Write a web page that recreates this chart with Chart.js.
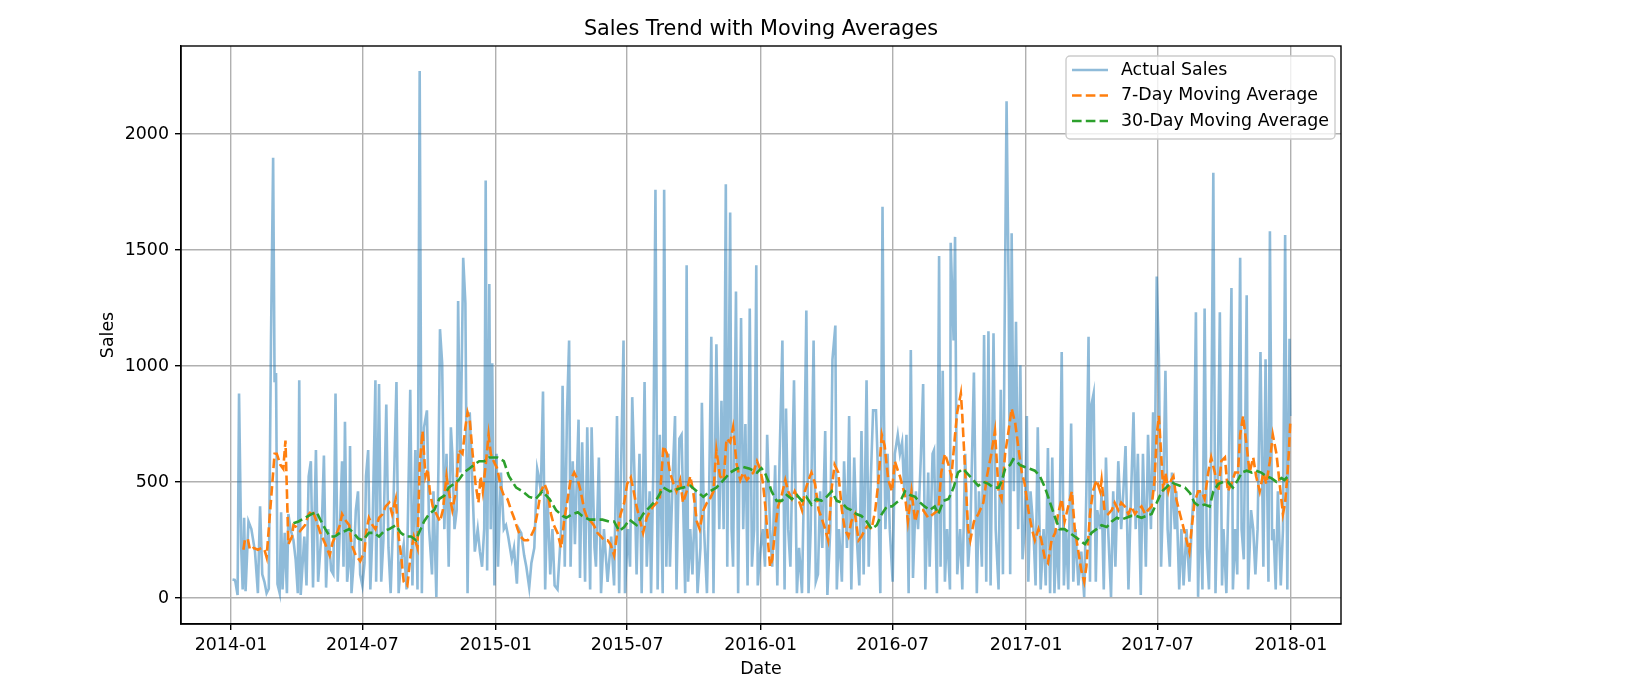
<!DOCTYPE html>
<html>
<head>
<meta charset="utf-8">
<script src="https://cdn.jsdelivr.net/npm/chart.js@4.4.1/dist/chart.umd.min.js"></script>
<style>
  html, body { margin: 0; padding: 0; background: #fff; }
  #wrap { width: 1631px; height: 696px; position: relative; }
</style>
</head>
<body>
<div id="wrap"><canvas id="chart"></canvas></div>
<script>
// x values are days counted from 2014-01-01 as [day, sales]
const actualSales = [
  [2, 80], [5, 78], [6, 70], [9, 13], [11, 882], [14, 216], [16, 37], [18, 346], [20, 29], [24, 330],
  [28, 297], [33, 200], [37, 21], [40, 395], [43, 102], [46, 70], [49, 21], [52, 40], [55, 1100], [58, 1898],
  [60, 930], [62, 970], [64, 60], [67, 21], [69, 370], [71, 37], [74, 281], [77, 21], [79, 362], [82, 297],
  [86, 249], [89, 167], [92, 21], [94, 939], [96, 13], [101, 265], [104, 54], [107, 525], [110, 590], [113, 45],
  [117, 638], [120, 70], [125, 297], [128, 614], [131, 45], [134, 297], [138, 119], [141, 102], [144, 882], [147, 70],
  [150, 297], [153, 590], [155, 135], [157, 760], [160, 70], [163, 167], [164, 655], [166, 21], [169, 151], [172, 379],
  [175, 460], [178, 102], [181, 54], [184, 151],
  [186, 525], [189, 638], [192, 37], [195, 297], [199, 939], [200, 70], [204, 923], [207, 70], [210, 249], [214, 834],
  [217, 216], [220, 21], [223, 297], [228, 931], [231, 21], [234, 150], [238, 232], [242, 37], [247, 898], [250, 54],
  [254, 638], [257, 37], [260, 2272], [263, 21], [266, 736], [270, 809], [273, 297], [277, 102], [279, 460], [283, 5],
  [286, 590], [288, 1159], [291, 1012], [294, 297], [297, 622], [300, 135], [303, 736], [305, 622], [308, 297], [311, 379],
  [313, 1281], [316, 541], [320, 1467], [323, 1272], [326, 21], [329, 801], [333, 460], [336, 200], [340, 297], [343, 200],
  [346, 135], [349, 300], [351, 1800], [353, 119], [356, 1354], [358, 297], [360, 1012], [363, 54], [366, 622], [368, 135],
  [372, 541], [376, 297], [379, 314], [382, 265], [387, 167], [390, 216], [394, 62], [397, 297], [400, 280], [404, 184],
  [407, 135], [411, 45], [414, 151], [418, 216], [422, 557], [424, 525], [427, 460], [430, 890], [433, 37], [436, 460],
  [440, 102], [443, 297], [446, 54], [450, 37], [455, 297], [457, 915], [460, 135], [463, 785], [466, 1110], [468, 135],
  [471, 590], [474, 232], [479, 769], [481, 86], [484, 671], [488, 70], [491, 736], [495, 37], [497, 736], [501, 216],
  [503, 135], [507, 606], [510, 21], [514, 297], [519, 70], [524, 265], [528, 54], [532, 785], [535, 21], [537, 460],
  [541, 1110], [543, 21], [547, 297], [550, 135], [553, 866], [556, 541],
  [559, 102], [563, 622], [566, 21], [570, 931], [573, 135], [577, 460], [579, 21], [582, 541], [585, 1760], [588, 37],
  [591, 704], [595, 21], [597, 1760], [600, 135], [603, 622], [605, 135], [609, 541], [612, 785], [614, 37], [618, 687],
  [621, 704], [624, 297], [626, 21], [628, 1435], [630, 70], [633, 297], [636, 102], [640, 460], [643, 21], [647, 216],
  [649, 842], [652, 297], [656, 21], [659, 460], [662, 1126], [665, 21], [669, 1094], [673, 297], [676, 850], [679, 297],
  [682, 1784], [684, 135], [688, 1662], [690, 297], [692, 135], [696, 1321], [699, 21], [703, 1207], [706, 297], [709, 750],
  [712, 54], [715, 1248], [718, 135], [721, 297], [724, 1435], [726, 54], [730, 216], [733, 297], [736, 135], [739, 704],
  [743, 297], [746, 135], [750, 572], [753, 54], [756, 590], [760, 1110], [763, 37], [765, 817], [768, 297], [771, 135],
  [776, 939], [780, 21], [783, 216], [787, 21], [790, 541], [793, 1240], [796, 21], [799, 297], [803, 1110], [806, 70],
  [809, 102], [812, 460], [815, 216], [819, 720], [822, 13], [826, 297], [829, 1029], [833, 1175], [835, 37], [838, 297],
  [842, 70], [845, 590], [849, 216], [852, 785], [855, 37], [859, 606], [862, 297], [866, 54], [869, 720], [872, 102],
  [876, 939], [879, 135], [882, 525], [885, 809], [889, 809], [891, 622], [895, 21], [898, 1687], [900, 785], [902, 297],
  [905, 622], [908, 297], [912, 70], [915, 622], [919, 704], [922, 622], [925, 671], [928, 460],
  [931, 704], [934, 21], [937, 1069], [940, 86], [944, 460], [947, 297], [951, 622], [954, 923], [957, 37], [961, 541],
  [963, 135], [967, 622], [969, 638], [973, 21], [976, 1475], [978, 135], [981, 980], [984, 70], [987, 297], [991, 37],
  [992, 1532], [996, 1110], [998, 1557], [1001, 102], [1005, 297], [1008, 37], [1012, 622], [1016, 135], [1019, 280], [1024, 972],
  [1028, 21], [1031, 460], [1035, 135], [1038, 1134], [1041, 70], [1044, 1150], [1047, 54], [1051, 1142], [1054, 297], [1058, 37],
  [1061, 898], [1064, 102], [1066, 1044], [1069, 2142], [1072, 1289], [1074, 102], [1076, 1573], [1079, 460], [1082, 1191], [1085, 297],
  [1088, 1004], [1091, 167], [1094, 297], [1097, 785], [1099, 70], [1102, 460], [1106, 297], [1109, 54],
  [1112, 736], [1116, 37], [1120, 297], [1123, 54], [1126, 647], [1129, 21], [1132, 606], [1135, 21], [1138, 297], [1141, 37],
  [1145, 1061], [1148, 54], [1151, 297], [1154, 37], [1158, 752], [1161, 70], [1164, 297], [1168, 54], [1172, 200], [1176, 5],
  [1179, 460], [1182, 1126], [1184, 70], [1186, 834], [1189, 882], [1192, 70], [1194, 379], [1198, 297], [1200, 460], [1203, 37],
  [1206, 606], [1209, 297], [1213, 5], [1216, 460], [1219, 135], [1223, 590], [1227, 297], [1230, 460], [1233, 655], [1237, 37],
  [1240, 379], [1244, 801], [1247, 297], [1250, 622], [1254, 13], [1257, 622], [1261, 135], [1264, 704], [1268, 297], [1271, 801],
  [1273, 460], [1276, 1386], [1279, 1029], [1282, 135], [1285, 460], [1288, 980], [1291, 297], [1294, 135], [1297, 541], [1301, 297],
  [1303, 460], [1307, 37], [1310, 297], [1313, 54], [1317, 297], [1321, 70], [1324, 297], [1327, 460], [1330, 1232], [1333, 5],
  [1336, 460], [1339, 37], [1342, 1248], [1345, 216], [1348, 37], [1351, 622], [1354, 1833], [1357, 21], [1360, 460], [1363, 1232],
  [1366, 54], [1368, 297], [1372, 21], [1375, 460], [1379, 1337], [1381, 37], [1384, 297], [1387, 102], [1391, 1467], [1393, 297],
  [1396, 167], [1400, 1305], [1402, 37], [1406, 379], [1409, 297], [1412, 102], [1415, 297], [1419, 1061], [1423, 135], [1426, 1029],
  [1430, 70], [1432, 1581], [1435, 249], [1437, 297], [1440, 37], [1443, 460], [1447, 54], [1450, 297], [1453, 1565], [1456, 37],
  [1459, 1118], [1460, 785]
];

const movingAvg7 = [
  [17, 208], [19, 249], [23, 257], [26, 208], [31, 216], [37, 208], [42, 216], [46, 208], [49, 176], [54, 379],
  [60, 622], [63, 622], [68, 574], [72, 557], [75, 679], [77, 460], [79, 232], [84, 265], [86, 314], [90, 306],
  [95, 289], [102, 314], [107, 362], [112, 379], [118, 330], [123, 281], [130, 232], [136, 184], [140, 240], [146, 281],
  [150, 314], [153, 362], [157, 338], [163, 314], [166, 232], [172, 184], [178, 159], [184, 200],
  [186, 281], [190, 346], [195, 314], [199, 297], [204, 346], [209, 362], [213, 395], [218, 411], [222, 362], [227, 427],
  [231, 265], [235, 167], [238, 70], [243, 54], [248, 200], [252, 265], [257, 216], [260, 574], [264, 720], [266, 622],
  [268, 525], [271, 557], [274, 460], [278, 395], [283, 362], [288, 330], [292, 379], [297, 525], [300, 460], [305, 379],
  [310, 460], [314, 638], [319, 622], [323, 736], [326, 801], [329, 769], [333, 622], [337, 492], [341, 411], [344, 525],
  [347, 460], [351, 574], [355, 704], [358, 622], [362, 590], [367, 557],
  [372, 476], [376, 442], [381, 427], [386, 379], [390, 346], [395, 297], [399, 265], [404, 249], [409, 249], [413, 265],
  [418, 297], [422, 362], [427, 460], [432, 492], [436, 460], [441, 362], [445, 314], [450, 281], [455, 216], [459, 330],
  [464, 427], [468, 509], [473, 541], [478, 509], [482, 460], [487, 379], [491, 346], [496, 330], [500, 314], [505, 281],
  [510, 265], [514, 249], [519, 249], [523, 232], [528, 184], [533, 297], [537, 362], [542, 411], [546, 492], [551, 520],
  [555, 460], [559, 395], [564, 330], [568, 281], [573, 346], [578, 379], [582, 395], [587, 411], [591, 427], [596, 655],
  [601, 622], [605, 541], [610, 492], [614, 460], [619, 509], [623, 411], [628, 460], [633, 525], [637, 460], [642, 330],
  [646, 297], [651, 379], [656, 411], [660, 427], [665, 460], [669, 638], [674, 525], [679, 509], [683, 687], [688, 671],
  [692, 736], [697, 574], [702, 509], [706, 541], [711, 509], [715, 525], [720, 541], [725, 590], [729, 560], [733, 500],
  [737, 380], [740, 250], [743, 135], [746, 167], [750, 297], [754, 395], [759, 442], [764, 509], [768, 460], [773, 427],
  [777, 460], [782, 427], [787, 379], [791, 460], [796, 509], [800, 541], [805, 492], [810, 379], [814, 346], [819, 297],
  [823, 249], [828, 476], [832, 574], [837, 541], [842, 379], [846, 297], [851, 265], [855, 330], [860, 362], [865, 249],
  [869, 265], [874, 297], [878, 314], [883, 297], [888, 379], [892, 492], [897, 704], [901, 655], [906, 509], [911, 460],
  [915, 590], [920, 541], [922, 525], [929, 442], [933, 330], [938, 460], [943, 330], [947, 379], [954, 379], [961, 346],
  [968, 362], [975, 379], [979, 541], [984, 622], [989, 574], [993, 525], [998, 704], [1001, 801], [1006, 882], [1008, 785],
  [1012, 541], [1016, 297], [1019, 249], [1024, 330], [1030, 362], [1037, 411], [1042, 525], [1048, 622], [1053, 720], [1058, 460],
  [1062, 427], [1067, 622], [1071, 704], [1076, 817], [1081, 752], [1085, 655], [1090, 541], [1094, 492], [1099, 379], [1104, 297],
  [1108, 249], [1113, 297], [1117, 249], [1122, 167], [1126, 151], [1131, 249], [1136, 281], [1140, 362], [1145, 427], [1149, 330],
  [1154, 395], [1159, 460], [1163, 297], [1168, 200], [1172, 119], [1176, 70], [1179, 135], [1184, 362], [1188, 460], [1193, 509],
  [1198, 460], [1200, 509], [1204, 379], [1209, 362], [1214, 379], [1218, 411], [1223, 379], [1227, 411], [1232, 395], [1237, 362],
  [1241, 395], [1246, 362], [1250, 379], [1255, 395], [1260, 362], [1264, 379], [1269, 395], [1273, 509], [1276, 704], [1279, 785],
  [1282, 622], [1285, 460], [1288, 541], [1292, 460], [1296, 509], [1299, 525], [1303, 427], [1308, 362], [1312, 314], [1317, 249],
  [1321, 200], [1324, 297], [1328, 411], [1333, 460], [1338, 460], [1342, 427], [1347, 541], [1351, 606], [1356, 541], [1361, 460],
  [1365, 590], [1370, 606], [1374, 460], [1379, 492], [1384, 541], [1388, 541], [1391, 704], [1395, 785], [1400, 655], [1404, 541],
  [1409, 606], [1413, 525], [1418, 460], [1423, 541], [1427, 492], [1432, 590], [1436, 704], [1441, 622], [1446, 476], [1450, 362],
  [1453, 411], [1456, 525], [1458, 622], [1460, 752]
];

const movingAvg30 = [
  [86, 322], [93, 330], [102, 346], [111, 362], [118, 370], [123, 338], [130, 297], [136, 265], [143, 265], [150, 281],
  [157, 289], [163, 297], [169, 281], [175, 257], [182, 249], [190, 281], [197, 281], [204, 265], [211, 289], [218, 297],
  [227, 314], [234, 281], [241, 265], [248, 265], [255, 249], [259, 281], [266, 330], [273, 362], [280, 379], [287, 427],
  [294, 442], [300, 476], [307, 492], [314, 509], [321, 541], [328, 557], [335, 574], [342, 590], [349, 590], [356, 606],
  [362, 606], [367, 606], [376, 590], [383, 525], [393, 476], [402, 460], [411, 436], [420, 427], [429, 460], [439, 427],
  [448, 379], [457, 354], [462, 346], [471, 362], [478, 370], [484, 354], [494, 338], [503, 338], [512, 338], [521, 330],
  [528, 330], [535, 289], [542, 306], [549, 338], [559, 314], [568, 362], [578, 395], [587, 427], [596, 476], [605, 460],
  [614, 468], [623, 476], [633, 484], [642, 460], [651, 436], [660, 460], [669, 476], [679, 509], [688, 541], [697, 557],
  [706, 565], [715, 557], [725, 541], [731, 560], [736, 540], [741, 500], [745, 460], [752, 419], [759, 419], [766, 444],
  [773, 427], [780, 444], [787, 419], [793, 436], [800, 403], [807, 427], [814, 419], [821, 436], [828, 460], [835, 419],
  [842, 411], [849, 387], [855, 379], [862, 362], [869, 354], [876, 330], [883, 297], [890, 314], [897, 362], [904, 395],
  [911, 395], [917, 411], [924, 427], [929, 460], [936, 444], [943, 436], [950, 411], [956, 395], [963, 379], [970, 395],
  [975, 362], [982, 419], [989, 427], [996, 476], [1002, 541], [1009, 557], [1016, 533], [1023, 509], [1030, 484], [1037, 501],
  [1044, 492], [1051, 476], [1058, 476], [1062, 501], [1067, 557], [1074, 574], [1078, 598], [1083, 590], [1087, 574], [1094, 565],
  [1101, 557], [1108, 549], [1115, 525], [1122, 476], [1129, 411], [1136, 346], [1142, 297], [1149, 297], [1156, 281], [1163, 265],
  [1170, 249], [1177, 232], [1182, 257], [1186, 281], [1193, 297], [1200, 314], [1207, 306], [1214, 330], [1221, 346], [1227, 338],
  [1234, 346], [1241, 354], [1248, 354], [1255, 346], [1262, 354], [1269, 362], [1276, 411], [1283, 460], [1289, 476], [1296, 500],
  [1301, 492], [1308, 484], [1315, 476], [1322, 452], [1328, 411], [1335, 395], [1342, 403], [1349, 395], [1354, 460], [1361, 492],
  [1368, 501], [1374, 501], [1381, 476], [1388, 509], [1393, 541], [1400, 549], [1407, 541], [1413, 549], [1420, 541], [1427, 525],
  [1434, 517], [1441, 501], [1448, 517], [1452, 509], [1457, 525], [1460, 525]
];

const seriesLabels = ['Actual Sales', '7-Day Moving Average', '30-Day Moving Average'];
const tickDays = [0, 181, 365, 546, 730, 912, 1096, 1277, 1461];
const tickLabels = ['2014-01', '2014-07', '2015-01', '2015-07', '2016-01', '2016-07', '2017-01', '2017-07', '2018-01'];
const yTicks = [0, 500, 1000, 1500, 2000];
const chartTitle = 'Sales Trend with Moving Averages';
const xTitle = 'Date';
const yTitle = 'Sales';

const FONT = "'DejaVu Sans', sans-serif";
const toPoints = pairs => pairs.map(p => ({ x: p[0], y: p[1] }));

// frame, axis titles and the legend box are drawn by hand to sit like matplotlib's
const decorations = {
  id: 'decorations',
  afterDraw(chart) {
    const ctx = chart.ctx;
    const a = chart.chartArea;
    const midX = (a.left + a.right) / 2;
    ctx.save();
    ctx.strokeStyle = '#000';
    ctx.lineWidth = 1.4;
    ctx.strokeRect(a.left, a.top, a.right - a.left, a.bottom - a.top);

    ctx.fillStyle = '#000';
    ctx.textAlign = 'center';
    ctx.textBaseline = 'middle';
    ctx.font = '20.8px ' + FONT;
    ctx.fillText(chartTitle, midX, 30);
    ctx.font = '17.4px ' + FONT;
    ctx.fillText(xTitle, midX, 669);
    ctx.save();
    ctx.translate(108, (a.top + a.bottom) / 2);
    ctx.rotate(-Math.PI / 2);
    ctx.fillText(yTitle, 0, 0);
    ctx.restore();

    // legend
    const bx = 1066, by = 56, bw = 269, bh = 83;
    ctx.beginPath();
    ctx.roundRect(bx, by, bw, bh, 4);
    ctx.fillStyle = 'rgba(255,255,255,0.8)';
    ctx.fill();
    ctx.strokeStyle = '#cccccc';
    ctx.lineWidth = 1.4;
    ctx.stroke();
    chart.data.datasets.forEach((ds, i) => {
      const y = 70 + i * 25.5;
      ctx.beginPath();
      ctx.setLineDash(ds.borderDash || []);
      ctx.strokeStyle = ds.borderColor;
      ctx.lineWidth = ds.borderWidth;
      ctx.moveTo(1072, y);
      ctx.lineTo(1108, y);
      ctx.stroke();
      ctx.setLineDash([]);
      ctx.fillStyle = '#000';
      ctx.textAlign = 'left';
      ctx.font = '17.4px ' + FONT;
      ctx.fillText(ds.label, 1121, y);
    });
    ctx.restore();
  }
};

const gridStyle = { color: '#b0b0b0', lineWidth: 1.4, tickColor: '#000', tickLength: 6, tickWidth: 1.4 };

new Chart(document.getElementById('chart'), {
  type: 'line',
  data: {
    datasets: [
      { label: seriesLabels[0], data: toPoints(actualSales), borderColor: 'rgba(31,119,180,0.5)', borderWidth: 2.6, pointRadius: 0, order: 2 },
      { label: seriesLabels[1], data: toPoints(movingAvg7), borderColor: '#ff7f0e', borderWidth: 2.6, borderDash: [9.6, 4.2], pointRadius: 0, order: 1 },
      { label: seriesLabels[2], data: toPoints(movingAvg30), borderColor: '#2ca02c', borderWidth: 2.6, borderDash: [9.6, 4.2], pointRadius: 0, order: 0 }
    ]
  },
  options: {
    responsive: true,
    maintainAspectRatio: false,
    animation: false,
    devicePixelRatio: 1,
    layout: { padding: { left: 116, right: 290, top: 46, bottom: 38 } },
    plugins: { legend: { display: false }, title: { display: false }, tooltip: { enabled: false } },
    scales: {
      x: {
        type: 'linear', min: -69, max: 1530,
        afterBuildTicks: s => { s.ticks = tickDays.map(v => ({ value: v })); },
        afterFit: s => { s.height = 34; },
        ticks: { callback: (v, i) => tickLabels[i], color: '#000', font: { family: FONT, size: 17.4 }, padding: 5, maxRotation: 0, autoSkip: false },
        grid: gridStyle,
        border: { color: '#000', width: 1.4 }
      },
      y: {
        type: 'linear', min: -112, max: 2380,
        afterBuildTicks: s => { s.ticks = yTicks.map(v => ({ value: v })); },
        afterFit: s => { s.width = 65; },
        ticks: { callback: v => String(v), color: '#000', font: { family: FONT, size: 17.4 }, padding: 6 },
        grid: gridStyle,
        border: { color: '#000', width: 1.4 }
      }
    }
  },
  plugins: [decorations]
});
</script>
</body>
</html>
